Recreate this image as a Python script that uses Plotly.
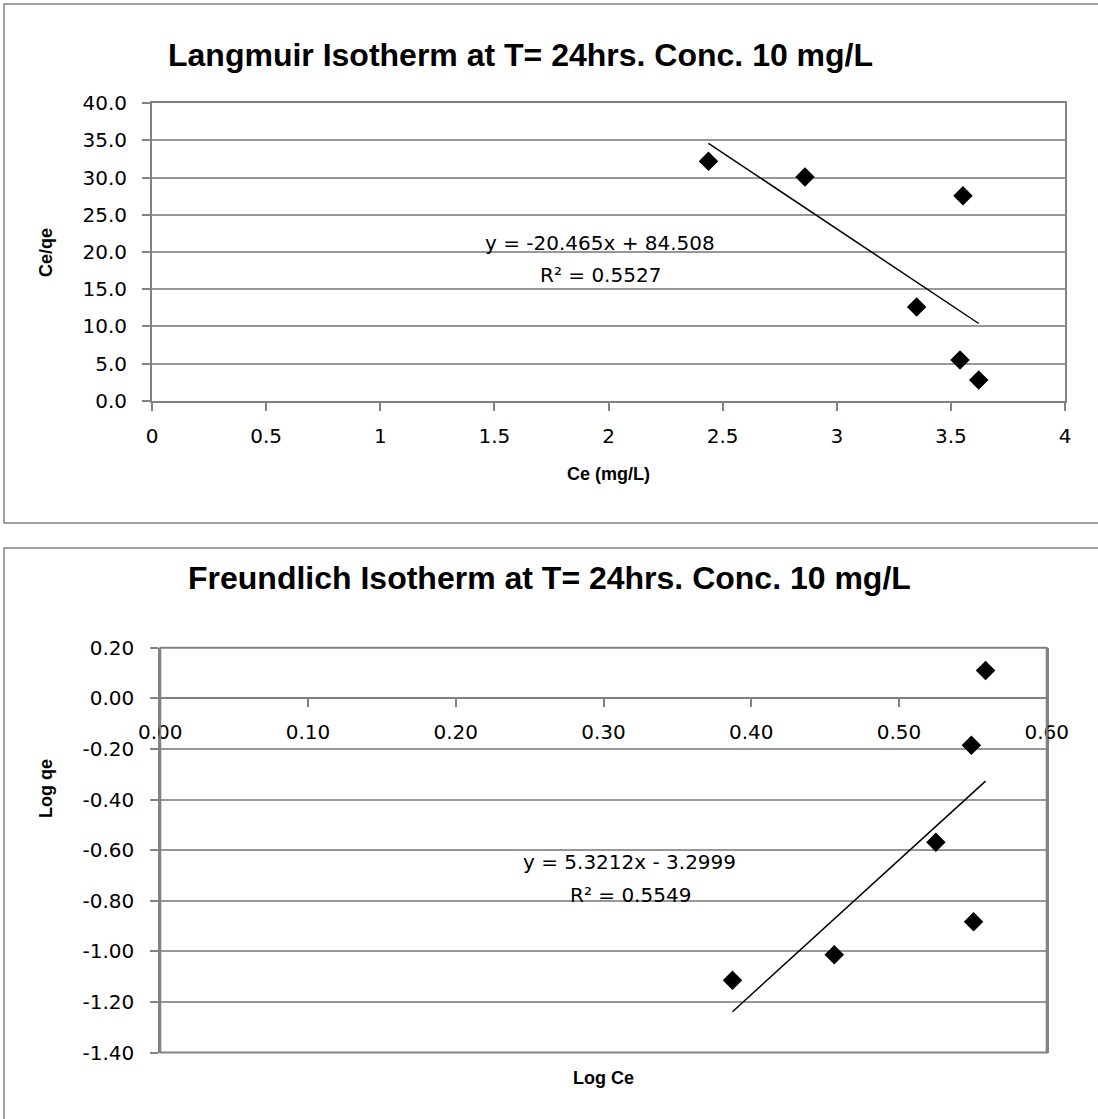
import plotly.graph_objects as go

# ---------------- data ----------------
lang_ce = [2.438, 2.861, 3.553, 3.350, 3.540, 3.622]
lang_ce_qe = [32.2, 30.1, 27.55, 12.6, 5.48, 2.79]
lang_slope = -20.465
lang_intercept = 84.508
lang_eq = "y = -20.465x + 84.508"
lang_r2 = "R² = 0.5527"

fr_log_ce = [0.3873, 0.4562, 0.5250, 0.5490, 0.5505, 0.5586]
fr_log_qe = [-1.114, -1.014, -0.569, -0.186, -0.883, 0.110]
fr_slope = 5.3212
fr_intercept = -3.2999
fr_eq = "y = 5.3212x - 3.2999"
fr_r2 = "R² = 0.5549"

lang_xticks = [0, 0.5, 1, 1.5, 2, 2.5, 3, 3.5, 4]
lang_xticktext = ["0", "0.5", "1", "1.5", "2", "2.5", "3", "3.5", "4"]
lang_yticks = [0, 5, 10, 15, 20, 25, 30, 35, 40]
lang_yticktext = ["0.0", "5.0", "10.0", "15.0", "20.0", "25.0", "30.0", "35.0", "40.0"]

fr_xticks = [0, 0.1, 0.2, 0.3, 0.4, 0.5, 0.6]
fr_xticktext = ["0.00", "0.10", "0.20", "0.30", "0.40", "0.50", "0.60"]
fr_yticks = [-1.4, -1.2, -1.0, -0.8, -0.6, -0.4, -0.2, 0.0, 0.2]
fr_yticktext = ["-1.40", "-1.20", "-1.00", "-0.80", "-0.60", "-0.40", "-0.20", "0.00", "0.20"]

title1 = "Langmuir Isotherm at T= 24hrs. Conc. 10 mg/L"
title2 = "Freundlich Isotherm at T= 24hrs. Conc. 10 mg/L"
xtitle1, ytitle1 = "Ce (mg/L)", "Ce/qe"
xtitle2, ytitle2 = "Log Ce", "Log qe"

# ---------------- layout helpers ----------------
W, H = 1098, 1119
FONT = "DejaVu Sans"
TFONT = "Liberation Sans"
GRID = "#979797"
BORDER = "#828282"


def px(x):
    return x / W


def py(y):
    return 1 - y / H


fig = go.Figure()

# Langmuir
fig.add_trace(go.Scatter(x=lang_ce, y=lang_ce_qe, mode="markers",
                         marker=dict(symbol="diamond", size=15, color="black"),
                         xaxis="x", yaxis="y", showlegend=False))
lx = [min(lang_ce), max(lang_ce)]
fig.add_trace(go.Scatter(x=lx, y=[lang_slope * v + lang_intercept for v in lx],
                         mode="lines", line=dict(color="black", width=1.5),
                         xaxis="x", yaxis="y", showlegend=False))

# Freundlich
fig.add_trace(go.Scatter(x=fr_log_ce, y=fr_log_qe, mode="markers",
                         marker=dict(symbol="diamond", size=15, color="black"),
                         xaxis="x2", yaxis="y2", showlegend=False))
fx = [min(fr_log_ce), max(fr_log_ce)]
fig.add_trace(go.Scatter(x=fx, y=[fr_slope * v + fr_intercept for v in fx],
                         mode="lines", line=dict(color="black", width=1.5),
                         xaxis="x2", yaxis="y2", showlegend=False))

tickfont = dict(family=FONT, size=20, color="black")

fr_ymin, fr_ymax = -1.4, 0.2
fr_top, fr_bot = 647.7, 1052.5
zero_y = fr_top + (fr_ymax - 0) / (fr_ymax - fr_ymin) * (fr_bot - fr_top)

common = dict(automargin=False, zeroline=False, showline=True, linecolor=BORDER, linewidth=2,
              ticks="outside", ticklen=8, tickcolor=BORDER, tickwidth=1.5, tickfont=tickfont)

fig.update_layout(
    template="none",
    width=W, height=H, autosize=False,
    margin=dict(l=0, r=0, t=0, b=0, pad=0),
    paper_bgcolor="white", plot_bgcolor="white",
    font=dict(family=FONT, color="black"),
    showlegend=False,
    xaxis=dict(domain=[px(152), px(1065)], anchor="y", range=[0, 4],
               tickvals=lang_xticks, ticktext=lang_xticktext,
               showgrid=False, mirror=True, ticklabelstandoff=8, **common),
    yaxis=dict(domain=[py(400.7), py(103.3)], anchor="x", range=[0, 40],
               tickvals=lang_yticks, ticktext=lang_yticktext,
               showgrid=True, gridcolor=GRID, gridwidth=2, mirror=True,
               ticklabelstandoff=11, **common),
    xaxis2=dict(domain=[px(160.3), px(1046.7)], anchor="free", position=py(zero_y),
                range=[0, 0.6], tickvals=fr_xticks, ticktext=fr_xticktext,
                showgrid=False, ticklabelstandoff=8, **common),
    yaxis2=dict(domain=[py(fr_bot), py(fr_top)], anchor="x2", range=[fr_ymin, fr_ymax],
                tickvals=fr_yticks, ticktext=fr_yticktext,
                showgrid=True, gridcolor=GRID, gridwidth=2, mirror=True,
                ticklabelstandoff=12, **common),
)

shapes = [
    dict(type="rect", xref="paper", yref="paper", x0=px(4), x1=px(1104), y0=py(523), y1=py(4),
         line=dict(color=BORDER, width=1.5), fillcolor="rgba(0,0,0,0)", layer="below"),
    dict(type="rect", xref="paper", yref="paper", x0=px(4), x1=px(1104), y0=py(1135), y1=py(548),
         line=dict(color=BORDER, width=1.5), fillcolor="rgba(0,0,0,0)", layer="below"),
    dict(type="rect", xref="x2 domain", yref="y2 domain", x0=0, x1=1, y0=0, y1=1,
         line=dict(color=BORDER, width=2), fillcolor="rgba(0,0,0,0)"),
]
fig.update_layout(shapes=shapes)


def note(text, x, y, size, family=FONT, angle=0):
    return dict(text=text, x=px(x), y=py(y), xref="paper", yref="paper", showarrow=False,
                font=dict(family=family, size=size, color="black"), textangle=angle,
                xanchor="center", yanchor="middle")


ann = [
    note(f"<b>{title1}</b>", 520, 55, 32, TFONT),
    note(f"<b>{title2}</b>", 549, 578, 32, TFONT),
    note(f"<b>{xtitle1}</b>", 608, 474, 18, TFONT),
    note(f"<b>{ytitle1}</b>", 46, 253, 18, TFONT, -90),
    note(f"<b>{xtitle2}</b>", 603, 1078, 18, TFONT),
    note(f"<b>{ytitle2}</b>", 46, 789, 18, TFONT, -90),
    note(lang_eq, 600, 243, 20),
    note(lang_r2, 600, 275, 20),
    note(fr_eq, 629, 862, 20),
    note(fr_r2, 630, 895, 20),
]
fig.update_layout(annotations=ann)

fig.write_html("out.html")
